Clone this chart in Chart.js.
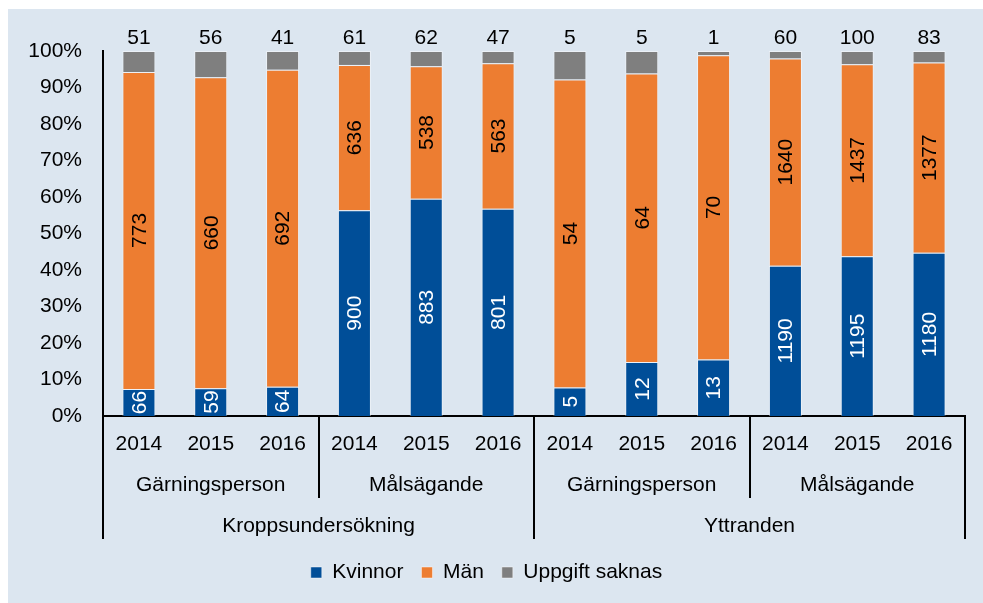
<!DOCTYPE html>
<html>
<head>
<meta charset="utf-8">
<script src="https://cdn.jsdelivr.net/npm/chart.js@4.4.1/dist/chart.umd.min.js"></script>
<style>
  html, body { margin: 0; padding: 0; background: #fff; }
  #wrap { position: absolute; left: 8px; top: 9px; width: 975px; height: 594px; background: #dce6f0; }
</style>
</head>
<body>
<div id="wrap"><canvas id="chart"></canvas></div>
<script>
const years = ['2014', '2015', '2016', '2014', '2015', '2016', '2014', '2015', '2016', '2014', '2015', '2016'];
const roles = ['Gärningsperson', 'Målsägande', 'Gärningsperson', 'Målsägande'];
const types = ['Kroppsundersökning', 'Yttranden'];

const kvinnor = [66, 59, 64, 900, 883, 801, 5, 12, 13, 1190, 1195, 1180];
const man = [773, 660, 692, 636, 538, 563, 54, 64, 70, 1640, 1437, 1377];
const saknas = [51, 56, 41, 61, 62, 47, 5, 5, 1, 60, 100, 83];

const totals = kvinnor.map((v, i) => v + man[i] + saknas[i]);
const pct = arr => arr.map((v, i) => v / totals[i] * 100);

const FONT = "'Liberation Sans', Arial, sans-serif";
Chart.defaults.font.family = FONT;
Chart.defaults.font.size = 21;
Chart.defaults.color = '#000';

// counts written on the bars
const barLabels = {
  id: 'barLabels',
  afterDatasetsDraw(chart) {
    const ctx = chart.ctx;
    ctx.save();
    ctx.font = '21px ' + FONT;
    ctx.textAlign = 'center';
    ctx.textBaseline = 'middle';
    chart.data.datasets.forEach((ds, d) => {
      chart.getDatasetMeta(d).data.forEach((bar, i) => {
        const { x, y, base } = bar.getProps(['x', 'y', 'base'], true);
        const txt = String(ds.counts[i]);
        if (d === 2) {
          ctx.fillStyle = '#000';
          ctx.fillText(txt, x, y - 13);
        } else {
          ctx.save();
          ctx.translate(x, (y + base) / 2);
          ctx.rotate(-Math.PI / 2);
          ctx.fillStyle = d === 0 ? '#fff' : '#000';
          ctx.fillText(txt, 0, 1);
          ctx.restore();
        }
      });
    });
    ctx.restore();
  }
};

// grouped category axis: dividers + role and type rows
const groupAxis = {
  id: 'groupAxis',
  afterDraw(chart) {
    const sc = chart.scales.x;
    const ctx = chart.ctx;
    const step = (sc.right - sc.left) / years.length;
    const top = sc.top;
    ctx.save();
    ctx.strokeStyle = '#000';
    ctx.lineWidth = 2;
    [0, 6, 12].forEach(k => {
      const x = Math.round(sc.left + k * step);
      ctx.beginPath(); ctx.moveTo(x, top); ctx.lineTo(x, top + 123); ctx.stroke();
    });
    [3, 9].forEach(k => {
      const x = Math.round(sc.left + k * step);
      ctx.beginPath(); ctx.moveTo(x, top); ctx.lineTo(x, top + 82); ctx.stroke();
    });
    ctx.font = '21px ' + FONT;
    ctx.fillStyle = '#000';
    ctx.textAlign = 'center';
    ctx.textBaseline = 'middle';
    roles.forEach((r, i) => ctx.fillText(r, sc.left + (i * 3 + 1.5) * step, top + 69));
    types.forEach((t, i) => ctx.fillText(t, sc.left + (i * 6 + 3) * step, top + 110));
    ctx.restore();
  }
};

const makeSet = (label, counts, color) => ({
  label,
  counts,
  data: pct(counts),
  backgroundColor: color,
  borderColor: 'rgba(255,255,255,0.45)',
  borderWidth: 1,
  categoryPercentage: 1,
  barPercentage: 0.46
});

new Chart(document.getElementById('chart'), {
  type: 'bar',
  data: {
    labels: years,
    datasets: [
      makeSet('Kvinnor', kvinnor, '#004e98'),
      makeSet('Män', man, '#ed7d31'),
      makeSet('Uppgift saknas', saknas, '#7f7f7f')
    ]
  },
  options: {
    responsive: true,
    maintainAspectRatio: false,
    animation: false,
    layout: { padding: { top: 42, right: 18, left: 0, bottom: 10 } },
    scales: {
      x: {
        stacked: true,
        grid: { display: false, drawTicks: false },
        border: { display: true, color: '#000', width: 2 },
        ticks: { padding: 16, maxRotation: 0, autoSkip: false },
        afterFit: s => { s.height = 128; }
      },
      y: {
        stacked: true,
        min: 0,
        max: 100,
        grid: { display: false, drawTicks: false },
        border: { display: true, color: '#000', width: 2 },
        ticks: { stepSize: 10, padding: 21, callback: v => v + '%' },
        afterFit: s => { s.width = 95; }
      }
    },
    plugins: {
      legend: {
        position: 'bottom',
        labels: { boxWidth: 11, boxHeight: 11, padding: 18, font: { size: 21 } }
      },
      tooltip: { enabled: false }
    }
  },
  plugins: [barLabels, groupAxis]
});
</script>
</body>
</html>
